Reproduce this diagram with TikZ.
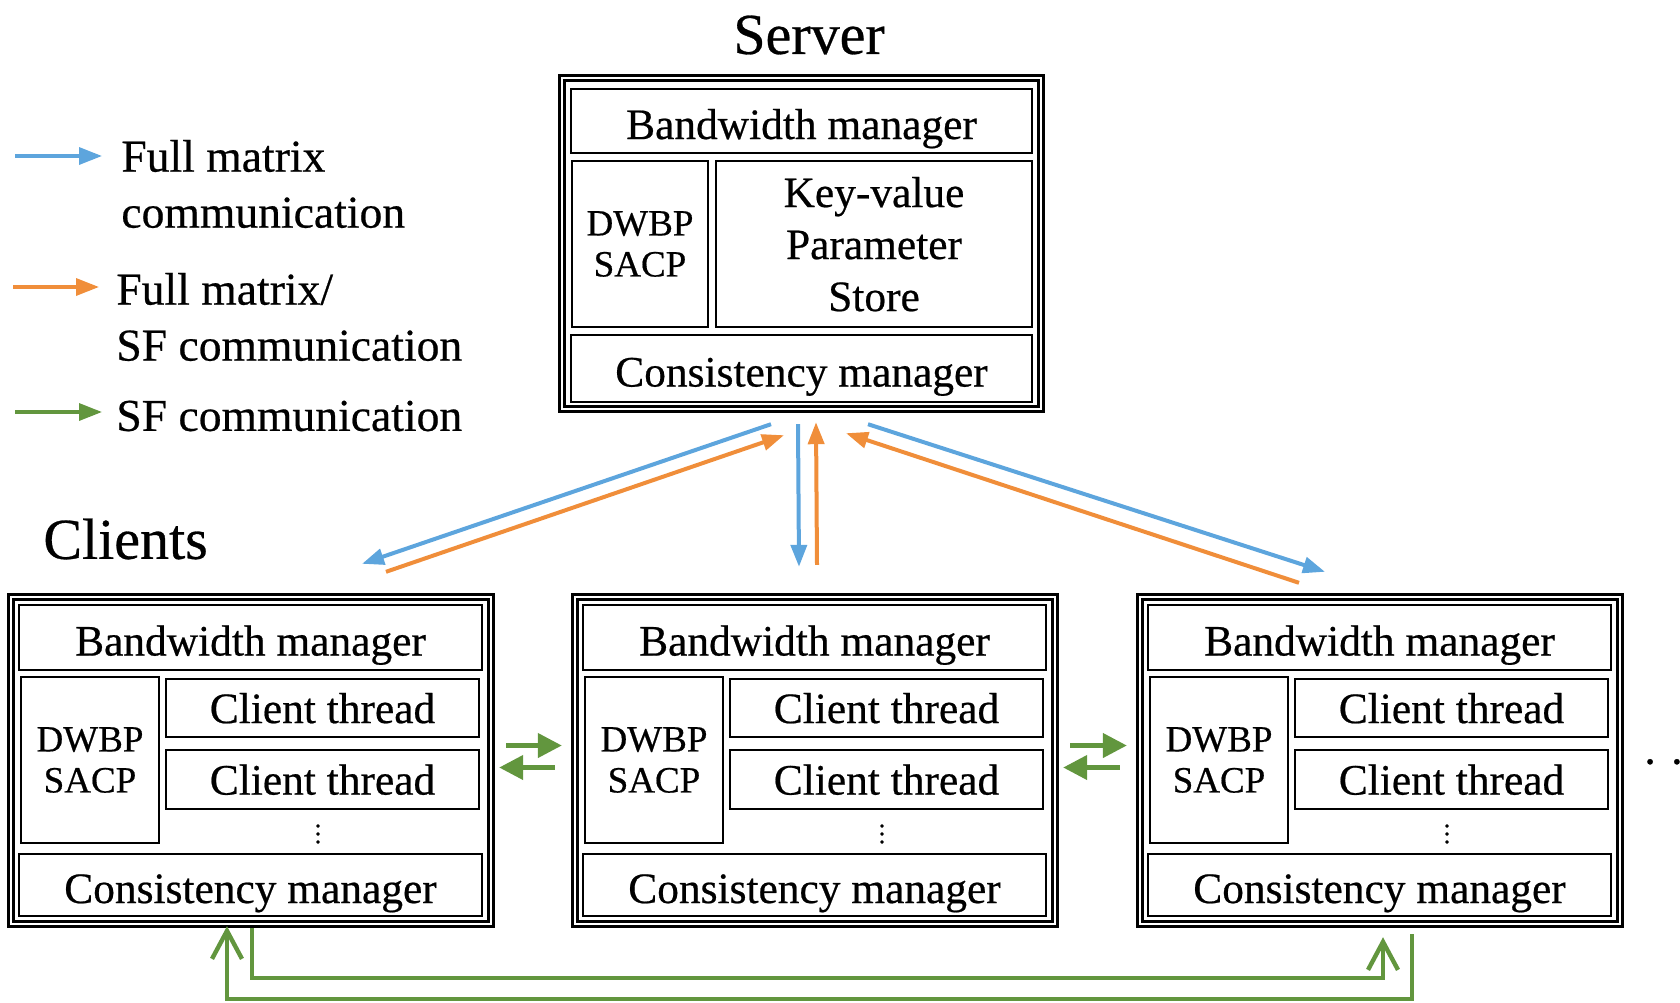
\documentclass[tikz,border=0pt]{standalone}
\usepackage{fontspec}
\setmainfont{Liberation Serif}[FakeBold=0.5]
\usetikzlibrary{arrows.meta,calc}
\definecolor{fmblue}{RGB}{93,165,221}
\definecolor{sforange}{RGB}{240,142,58}
\definecolor{sfgreen}{RGB}{98,150,62}

\begin{document}
\begin{tikzpicture}[x=0.5pt, y=-0.5pt,
  outerbox/.style={draw, double, line width=1.2pt, double distance=1.2pt, inner sep=0pt},
  box/.style={draw, line width=1.3pt, inner sep=0pt, align=center, font=\fontsize{21.7}{26}\selectfont},
  rowbox/.style={box, text height=18pt, text depth=0pt},
  threadbox/.style={box, text depth=0pt},
  proto/.style={box, font=\fontsize{18.5}{20.5}\selectfont},
  heading/.style={inner sep=0pt, font=\fontsize{29}{34}\selectfont},
  legtext/.style={inner sep=0pt, align=left, anchor=west, font=\fontsize{22.8}{28}\selectfont},
  fm/.style={draw=fmblue, line width=2pt, -{Triangle[length=11pt,width=8pt]}},
  fmsf/.style={draw=sforange, line width=2pt, -{Triangle[length=11pt,width=8pt]}},
  sf/.style={draw=sfgreen, line width=2.2pt, -{Triangle[length=12pt,width=12pt]}},
  sfloop/.style={draw=sfgreen, line width=2.2pt, -{Straight Barb[length=14pt,width=15pt]}}]
  \useasboundingbox (0,0) rectangle (1680,1002);

  % legend
  \coordinate (leg-fm-a) at (15,156);  \coordinate (leg-fm-b) at (102,156);
  \coordinate (leg-fmsf-a) at (13,287); \coordinate (leg-fmsf-b) at (99,287);
  \coordinate (leg-sf-a) at (15,412);  \coordinate (leg-sf-b) at (102,412);
  \draw[fm, line width=1.7pt, -{Triangle[length=11.5pt,width=8.5pt]}] (leg-fm-a) -- (leg-fm-b);
  \draw[fmsf, line width=1.7pt, -{Triangle[length=11.5pt,width=8.5pt]}] (leg-fmsf-a) -- (leg-fmsf-b);
  \draw[sf, line width=1.7pt, -{Triangle[length=11.5pt,width=8.5pt]}] (leg-sf-a) -- (leg-sf-b);
  \node[legtext] (leg-fm) at (121,184) {Full matrix\\communication};
  \node[legtext] (leg-fmsf) at (116,317) {Full matrix/\\SF communication};
  \node[legtext] (leg-sf) at (116,416) {SF communication};

  % server
  \node[heading] (srvtitle) at (809,35) {Server};
  \node[outerbox, minimum width=239.5pt, minimum height=165.5pt] (srv) at (801.5,243.5) {};
  \node[rowbox, minimum width=230.5pt, minimum height=32pt] (srv-bw) at (801.5,121) {Bandwidth manager};
  \node[proto, minimum width=68pt, minimum height=83pt] (srv-dw) at (640,244) {DWBP\\SACP};
  \node[box, minimum width=158pt, minimum height=83pt, text depth=-3pt] (srv-kv) at (874,244) {Key-value\\Parameter\\Store};
  \node[rowbox, minimum width=230.5pt, minimum height=33.5pt] (srv-cm) at (801.5,368.5) {Consistency manager};

  % clients
  \node[heading, anchor=west] (cltitle) at (43,539) {Clients};
  \foreach \i/\x in {1/0, 2/564, 3/1129} {
    \node[outerbox, minimum width=240pt, minimum height=163.5pt] (c\i) at (251+\x,760.5) {};
    \node[rowbox, minimum width=231.5pt, minimum height=32.5pt] (c\i-bw) at (250.5+\x,637.5) {Bandwidth manager};
    \node[proto, minimum width=69pt, minimum height=83pt] (c\i-dw) at (90+\x,760) {DWBP\\SACP};
    \node[threadbox, minimum width=156.5pt, minimum height=29pt] (c\i-t1) at (322.5+\x,708) {Client thread};
    \node[threadbox, minimum width=156.5pt, minimum height=29.5pt] (c\i-t2) at (322.5+\x,779.5) {Client thread};
    \node[inner sep=0pt, font=\fontsize{13}{13}\selectfont] (c\i-dots) at (318+\x,828) {$\vdots$};
    \node[rowbox, minimum width=231.5pt, minimum height=31pt] (c\i-cm) at (250.5+\x,885) {Consistency manager};
  }
  \node[inner sep=0pt, anchor=base west, font=\fontsize{23}{26}\selectfont] (more) at (1642,777) {· · ·};

  % server <-> clients
  \draw[fm] ($(srv.south)+(-30.5,14)$) -- ($(c1.north)+(111,-32)$);
  \draw[fmsf] ($(c1.north)+(135,-24)$) -- ($(srv.south)+(-17.5,25)$);
  \draw[fm] ($(srv.south)+(-3.5,14)$) -- ($(c2.north)+(-16,-29)$);
  \draw[fmsf] ($(c2.north)+(2,-31)$) -- ($(srv.south)+(14.5,12)$);
  \draw[fm] ($(srv.south)+(66.5,14)$) -- ($(c3.north)+(-55,-24)$);
  \draw[fmsf] ($(c3.north)+(-81,-13)$) -- ($(srv.south)+(44.5,23)$);

  % client <-> client
  \foreach \a/\b in {c1/c2, c2/c3} {
    \draw[sf] ($(\a.east)+(14,-15)$) -- ($(\b.west)+(-12,-15)$);
    \draw[sf] ($(\b.west)+(-19,7)$) -- ($(\a.east)+(7,7)$);
  }
  \draw[sfloop] ($(c1.south)+(1,3)$) -- ++(0,50) -| ($(c3.south)+(3,12)$);
  \draw[sfloop] ($(c3.south)+(32,9)$) -- ++(0,65) -| ($(c1.south)+(-24,1)$);
\end{tikzpicture}
\end{document}
